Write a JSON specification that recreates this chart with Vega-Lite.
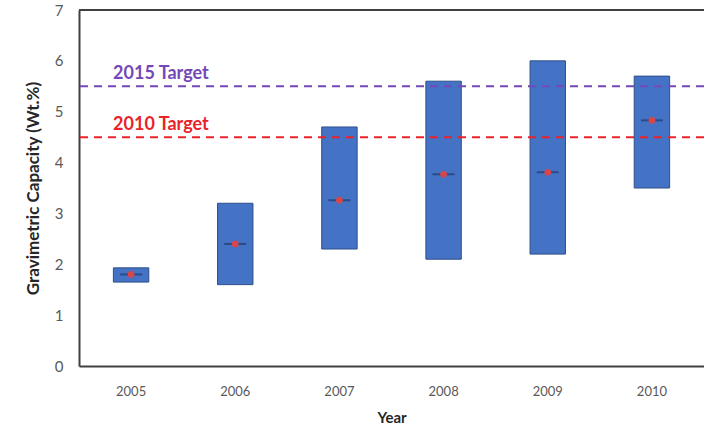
{
  "$schema": "https://vega.github.io/schema/vega-lite/v6.json",
  "autosize": "none",
  "width": 625,
  "height": 356,
  "padding": {"left": 79, "top": 10, "right": 0, "bottom": 59},
  "background": "white",
  "config": {"view": {"stroke": null}, "font": "Lato"},
  "datasets": {
    "ranges": [
      {"year": "2005", "low": 1.65, "high": 1.93, "mid": 1.8},
      {"year": "2006", "low": 1.6, "high": 3.2, "mid": 2.4},
      {"year": "2007", "low": 2.3, "high": 4.7, "mid": 3.26},
      {"year": "2008", "low": 2.1, "high": 5.6, "mid": 3.77},
      {"year": "2009", "low": 2.2, "high": 6.0, "mid": 3.81},
      {"year": "2010", "low": 3.5, "high": 5.7, "mid": 4.83}
    ],
    "targets": [
      {"label": "2015 Target", "value": 5.5, "year": "2005"},
      {"label": "2010 Target", "value": 4.5, "year": "2005"}
    ],
    "frame": [{"top": 7}]
  },
  "layer": [
    {
      "data": {"name": "frame"},
      "mark": {"type": "rule", "color": "#404040", "strokeWidth": 2},
      "encoding": {"y": {"field": "top", "type": "quantitative", "scale": {"domain": [0, 7]}}}
    },
    {
      "data": {"name": "ranges"},
      "mark": {"type": "bar", "color": "#4472C4", "stroke": "#2F4F8A", "strokeWidth": 1},
      "encoding": {
        "x": {
          "field": "year", "type": "nominal",
          "scale": {"paddingInner": 0.66, "paddingOuter": 0.33},
          "axis": {"title": "Year", "titleFont": "Lato", "titleFontSize": 15, "titleFontWeight": "bold", "titleColor": "#262626", "titlePadding": 12,
                   "labelAngle": 0, "labelFontSize": 13, "labelColor": "#595959", "labelPadding": 19, "ticks": false,
                   "domainColor": "#404040", "domainWidth": 2}
        },
        "y": {
          "field": "low", "type": "quantitative",
          "scale": {"domain": [0, 7]},
          "axis": {"title": "Gravimetric Capacity (Wt.%)", "titleFont": "Lato", "titleFontSize": 17, "titleFontWeight": "bold", "titleColor": "#262626", "titlePadding": 12,
                   "values": [0, 1, 2, 3, 4, 5, 6, 7], "grid": false, "ticks": false, "labelFontSize": 15, "labelColor": "#595959", "labelPadding": 16,
                   "domainColor": "#404040", "domainWidth": 2}
        },
        "y2": {"field": "high"}
      }
    },
    {
      "data": {"name": "targets"},
      "mark": {"type": "rule", "strokeWidth": 2, "strokeDash": [8, 6]},
      "encoding": {
        "y": {"field": "value", "type": "quantitative"},
        "color": {"field": "label", "type": "nominal", "scale": {"domain": ["2015 Target", "2010 Target"], "range": ["#7448B8", "#E8232A"]}, "legend": null}
      }
    },
    {
      "data": {"name": "targets"},
      "mark": {"type": "text", "align": "left", "baseline": "bottom", "dx": -18, "dy": -3, "fontSize": 18, "fontWeight": "bold", "font": "Lato"},
      "encoding": {
        "x": {"field": "year", "type": "nominal"},
        "y": {"field": "value", "type": "quantitative"},
        "text": {"field": "label"},
        "color": {"field": "label", "type": "nominal", "legend": null}
      }
    },
    {
      "data": {"name": "ranges"},
      "mark": {"type": "tick", "color": "#203A6B", "thickness": 2, "size": 22, "orient": "horizontal"},
      "encoding": {
        "x": {"field": "year", "type": "nominal"},
        "y": {"field": "mid", "type": "quantitative"}
      }
    },
    {
      "data": {"name": "ranges"},
      "mark": {"type": "point", "filled": true, "color": "#D9464A", "size": 45, "opacity": 1},
      "encoding": {
        "x": {"field": "year", "type": "nominal"},
        "y": {"field": "mid", "type": "quantitative"}
      }
    }
  ]
}
